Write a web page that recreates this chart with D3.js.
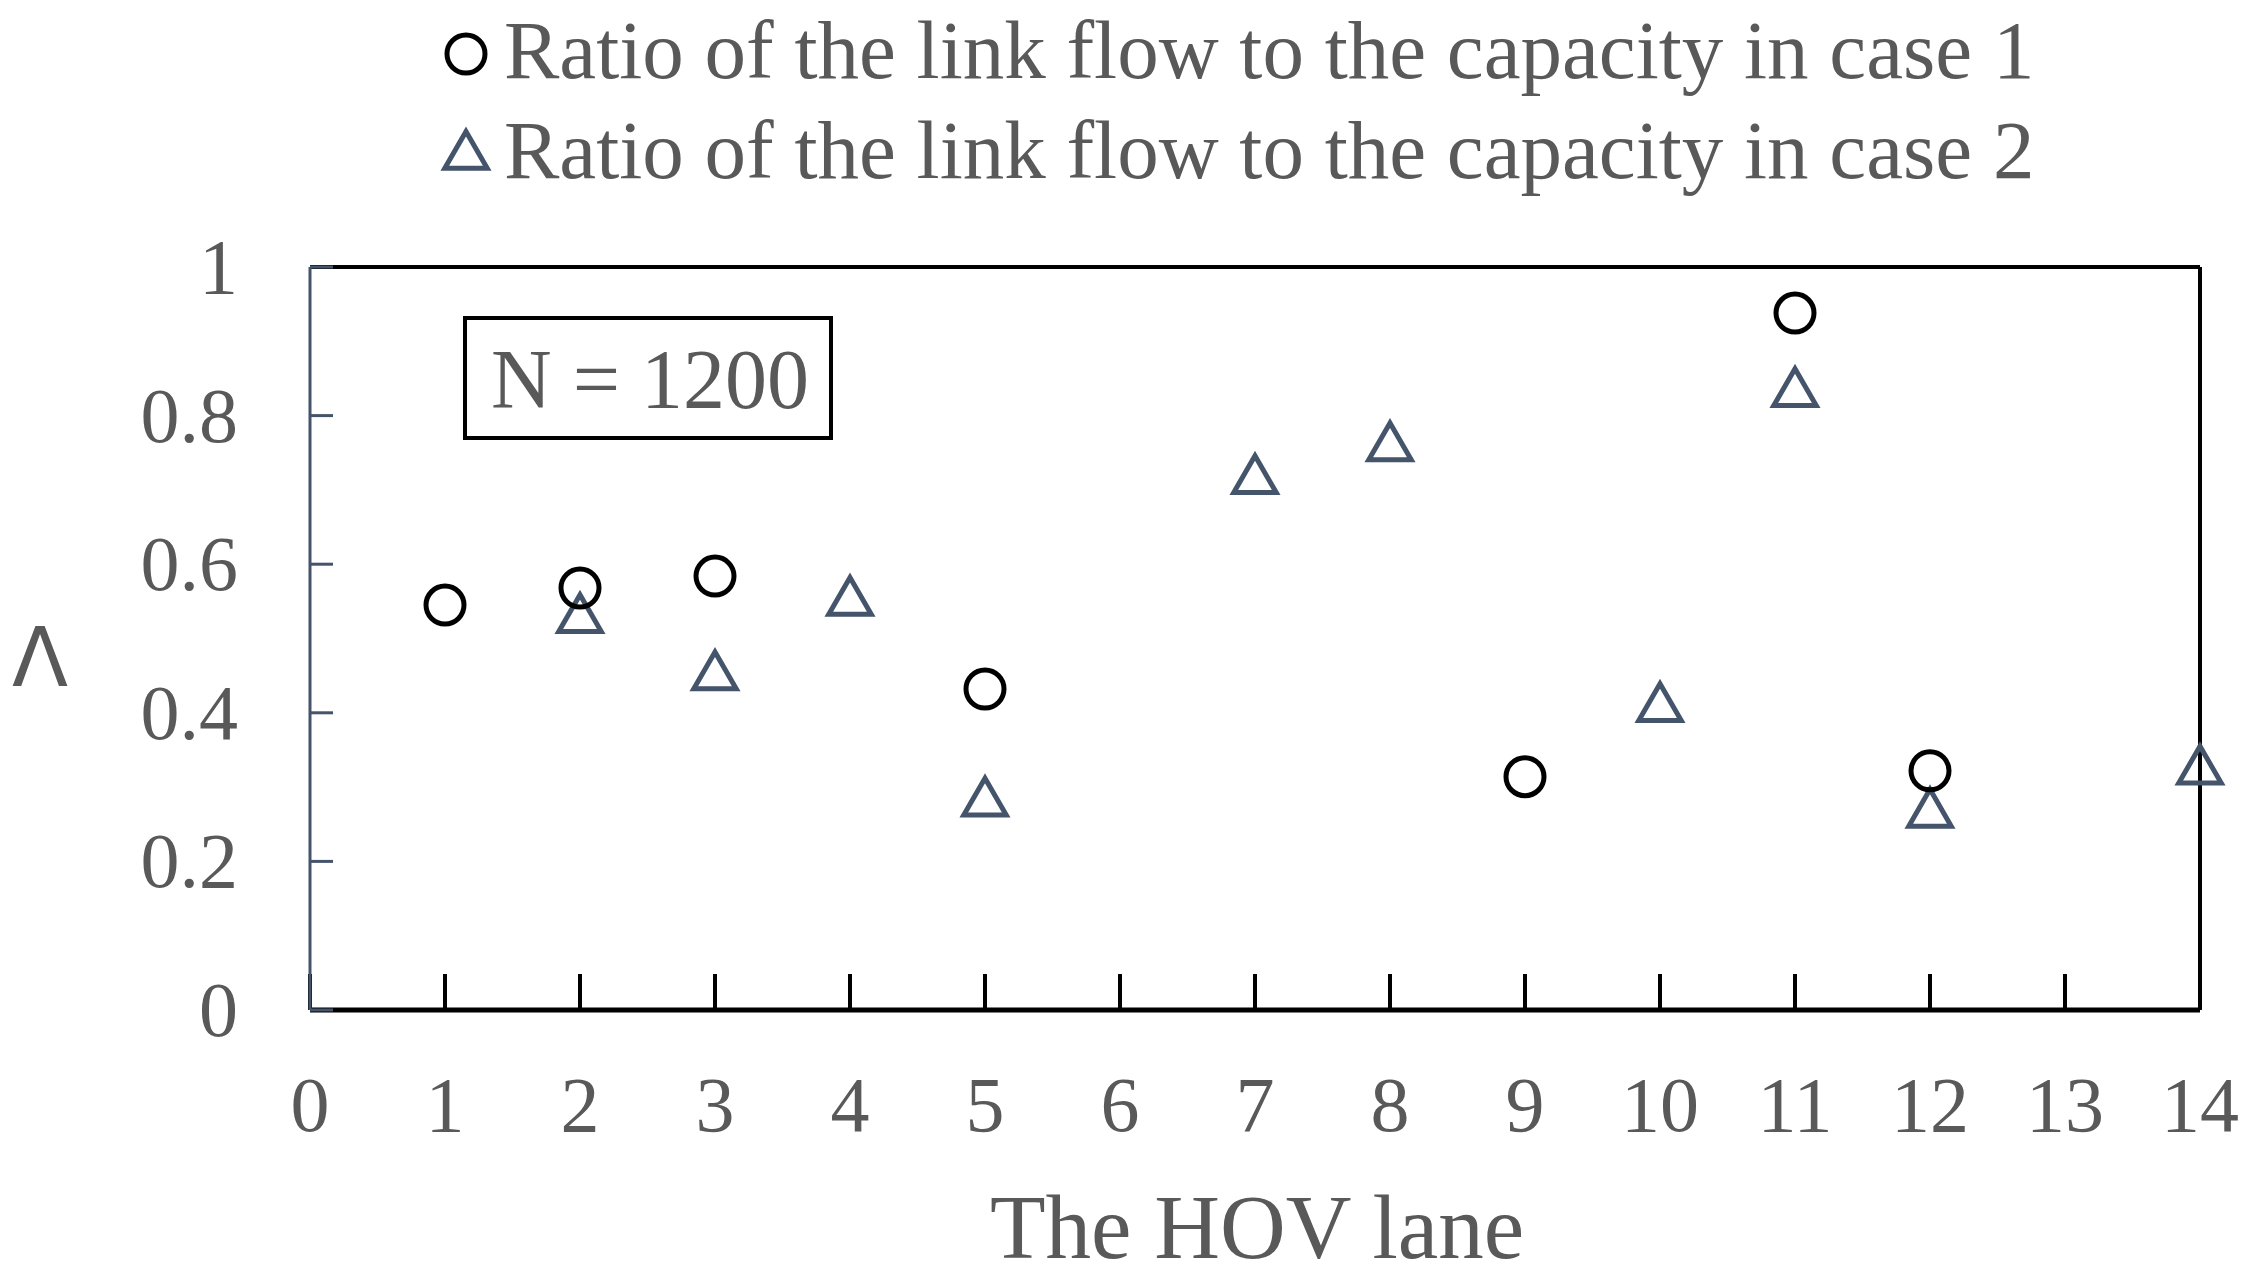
<!DOCTYPE html>
<html><head><meta charset="utf-8">
<script src="https://cdn.jsdelivr.net/npm/d3@7"></script>
<style>body{margin:0;background:#fff}</style></head>
<body><svg id="c" width="2247" height="1282"></svg>
<script>
const case1X=[1,2,3,5,9,11,12];
const case1Y=[0.545,0.568,0.584,0.432,0.314,0.938,0.322];
const case2X=[2,3,4,5,7,8,10,11,12,14];
const case2Y=[0.53,0.453,0.553,0.283,0.717,0.761,0.41,0.834,0.268,0.326];
const xTicks=d3.range(0,15);
const yTicks=[0,0.2,0.4,0.6,0.8,1];
const legendLabels=["Ratio of the link flow to the capacity in case 1","Ratio of the link flow to the capacity in case 2"];

const svg=d3.select("#c");
const font="Liberation Serif, Times New Roman, serif";
const grey="#595959", navy="#44546A";
const x=d3.scaleLinear().domain([0,14]).range([310,2200]);
const y=d3.scaleLinear().domain([0,1]).range([1010,267]);

svg.append("line").attr("x1",x(0)).attr("x2",x(14)).attr("y1",y(1)).attr("y2",y(1)).attr("stroke","#000").attr("stroke-width",4);
svg.append("line").attr("x1",x(14)).attr("x2",x(14)).attr("y1",y(1)).attr("y2",y(0)).attr("stroke","#000").attr("stroke-width",4);
svg.append("line").attr("x1",x(0)).attr("x2",x(14)).attr("y1",y(0)).attr("y2",y(0)).attr("stroke","#000").attr("stroke-width",5);
svg.selectAll(".xt").data(xTicks).enter().append("line").attr("x1",d=>x(d)).attr("x2",d=>x(d)).attr("y1",y(0)).attr("y2",y(0)-36).attr("stroke","#000").attr("stroke-width",4);
svg.selectAll(".xl").data(xTicks).enter().append("text").attr("x",d=>x(d)).attr("y",1131).attr("text-anchor","middle").attr("font-family",font).attr("font-size",78).attr("fill",grey).text(d=>d);
svg.append("line").attr("x1",x(0)).attr("x2",x(0)).attr("y1",y(1)).attr("y2",y(0)).attr("stroke",navy).attr("stroke-width",3);
svg.selectAll(".yt").data(yTicks).enter().append("line").attr("x1",x(0)).attr("x2",x(0)+23).attr("y1",d=>y(d)).attr("y2",d=>y(d)).attr("stroke",navy).attr("stroke-width",3);
svg.selectAll(".yl").data(yTicks).enter().append("text").attr("x",238).attr("y",d=>y(d)+26).attr("text-anchor","end").attr("font-family",font).attr("font-size",78).attr("fill",grey).text(d=>d);
svg.append("text").attr("x",40).attr("y",686).attr("text-anchor","middle").attr("font-family","DejaVu Sans, sans-serif").attr("font-size",82).attr("fill",grey).text("Λ");
svg.append("text").attr("x",1257).attr("y",1258).attr("text-anchor","middle").attr("font-family",font).attr("font-size",91).attr("fill",grey).text("The HOV lane");
svg.append("rect").attr("x",465).attr("y",318).attr("width",366).attr("height",120).attr("fill","#fff").attr("stroke","#000").attr("stroke-width",4);
svg.append("text").attr("x",650).attr("y",408).attr("text-anchor","middle").attr("font-family",font).attr("font-size",84).attr("fill",grey).text("N = 1200");
const tri=d3.symbol().type(d3.symbolTriangle).size(780);
svg.selectAll(".t").data(case2X).enter().append("path").attr("d",tri).attr("transform",(d,i)=>`translate(${x(d)},${y(case2Y[i])+3})`).attr("fill","none").attr("stroke",navy).attr("stroke-width",5);
svg.selectAll(".o").data(case1X).enter().append("circle").attr("cx",d=>x(d)).attr("cy",(d,i)=>y(case1Y[i])).attr("r",19).attr("fill","none").attr("stroke","#000").attr("stroke-width",5);
svg.append("circle").attr("cx",466).attr("cy",54).attr("r",19).attr("fill","none").attr("stroke","#000").attr("stroke-width",5);
svg.append("path").attr("d",tri).attr("transform","translate(466,156)").attr("fill","none").attr("stroke",navy).attr("stroke-width",5);
svg.selectAll(".lg").data(legendLabels).enter().append("text").attr("x",504).attr("y",(d,i)=>78+i*100).attr("font-family",font).attr("font-size",83).attr("fill",grey).text(d=>d);
</script></body></html>
